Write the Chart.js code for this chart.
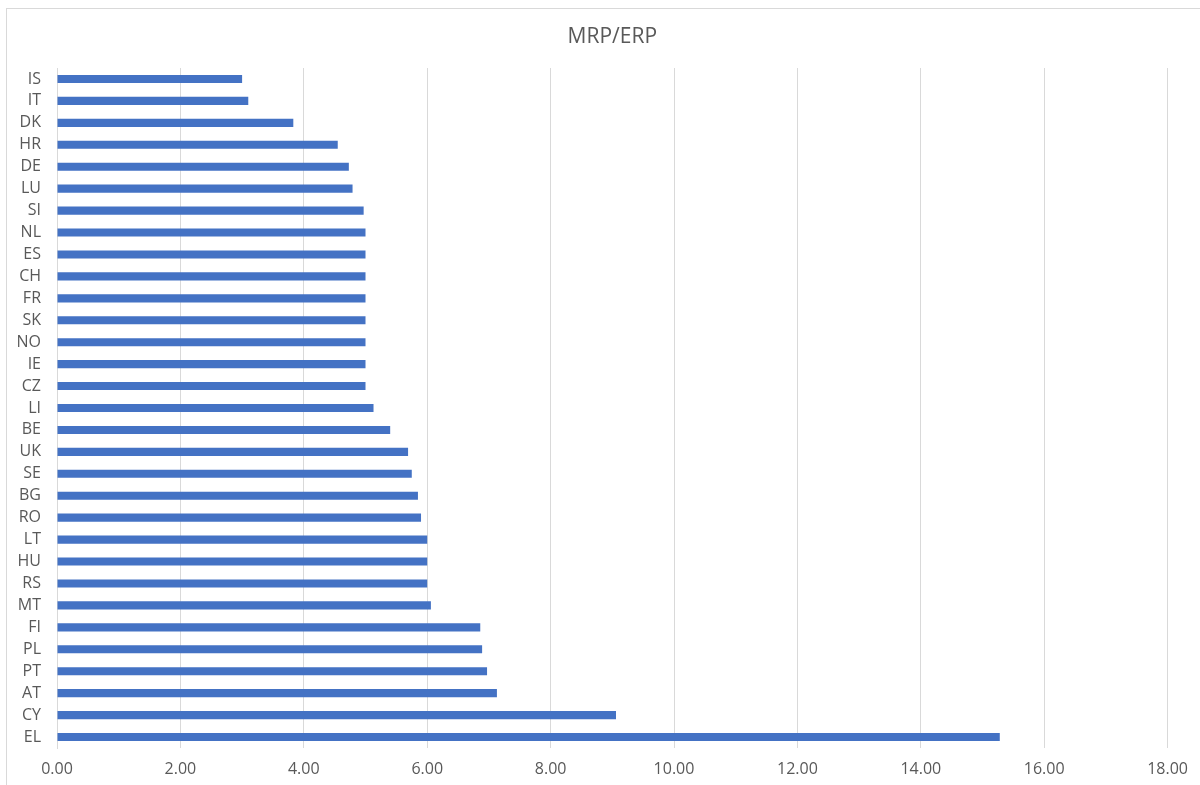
<!DOCTYPE html>
<html>
<head>
<meta charset="utf-8">
<title>MRP/ERP</title>
<script src="https://cdn.jsdelivr.net/npm/chart.js@4/dist/chart.umd.min.js"></script>
<style>
    html, body { margin: 0; padding: 0; background: #fff; overflow: hidden; }
    #wrap { position: relative; width: 1200px; height: 785px; }
    #frame {
        position: absolute; left: 6px; top: 8px; width: 1300px; height: 900px;
        border-left: 1px solid #d9d9d9; border-top: 1px solid #d9d9d9;
        pointer-events: none;
    }
    canvas { position: absolute; left: 0; top: 0; }
</style>
</head>
<body>
<div id="wrap">
    <div id="frame"></div>
    <canvas id="mrpChart" width="1200" height="785"></canvas>
</div>
<script>
/* ---------- data ---------- */
const countries = ['IS', 'IT', 'DK', 'HR', 'DE', 'LU', 'SI', 'NL', 'ES', 'CH', 'FR',
                   'SK', 'NO', 'IE', 'CZ', 'LI', 'BE', 'UK', 'SE', 'BG', 'RO',
                   'LT', 'HU', 'RS', 'MT', 'FI', 'PL', 'PT', 'AT', 'CY', 'EL'];
const mrpValues = [3.00, 3.10, 3.83, 4.55, 4.73, 4.79, 4.97, 5.00, 5.00, 5.00, 5.00,
                   5.00, 5.00, 5.00, 5.00, 5.13, 5.40, 5.69, 5.75, 5.85, 5.90,
                   6.00, 6.00, 6.00, 6.06, 6.86, 6.89, 6.97, 7.13, 9.06, 15.28];
const xTicks = [0, 2, 4, 6, 8, 10, 12, 14, 16, 18];
const chartTitle = 'MRP/ERP';

/* ---------- chart ---------- */
const TEXT = '#595959';
const GRID = '#d9d9d9';
const FONT = "'Open Sans', 'Noto Sans', sans-serif";

// title centred over the plot area (like Excel), not the whole canvas
const plotTitle = {
    id: 'plotTitle',
    afterDraw(chart) {
        const c = chart.ctx;
        const a = chart.chartArea;
        c.save();
        c.fillStyle = TEXT;
        c.font = '21px ' + FONT;
        c.textAlign = 'center';
        c.textBaseline = 'middle';
        c.fillText(chartTitle, (a.left + a.right) / 2, 37);
        c.restore();
    }
};

const ctx = document.getElementById('mrpChart');
new Chart(ctx, {
    type: 'bar',
    data: {
        labels: countries,
        datasets: [{
            label: chartTitle,
            data: mrpValues,
            backgroundColor: '#4472c4',
            borderWidth: 0,
            categoryPercentage: 1,
            barPercentage: 0.37,
        }]
    },
    plugins: [plotTitle],
    options: {
        indexAxis: 'y',
        responsive: false,
        animation: false,
        devicePixelRatio: 1,
        layout: { padding: { left: 0, right: 32, top: 68, bottom: 0 } },
        plugins: {
            legend: { display: false },
            tooltip: { enabled: false },
            title: { display: false }
        },
        scales: {
            x: {
                min: 0,
                max: 18,
                afterBuildTicks: scale => { scale.ticks = xTicks.map(v => ({ value: v })); },
                afterFit: scale => { scale.height = 37; },
                grid: { color: GRID, lineWidth: 1, drawTicks: false },
                border: { display: false },
                ticks: {
                    color: TEXT,
                    padding: 12,
                    font: { family: FONT, size: 16 },
                    callback: v => Number(v).toFixed(2)
                }
            },
            y: {
                afterFit: scale => { scale.width = 57; },
                grid: { display: false, drawTicks: false },
                border: { display: true, color: GRID },
                ticks: {
                    color: TEXT,
                    padding: 16,
                    autoSkip: false,
                    font: { family: FONT, size: 16 }
                }
            }
        }
    }
});
</script>
</body>
</html>
